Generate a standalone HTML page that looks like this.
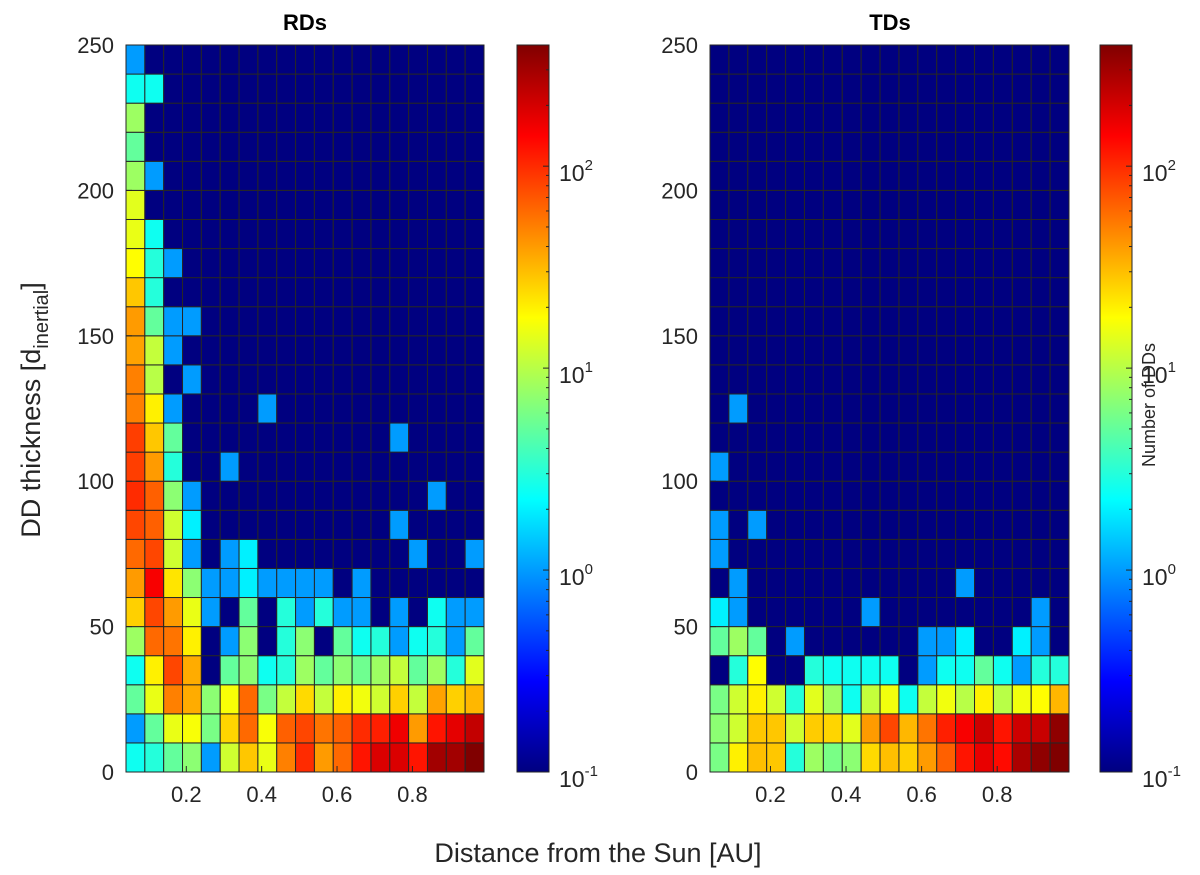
<!DOCTYPE html>
<html><head><meta charset="utf-8"><style>
html,body{margin:0;padding:0;background:#fff;}
svg{display:block;font-family:"Liberation Sans",Arial,sans-serif;}
</style></head><body>
<svg id="fig" width="1200" height="875" viewBox="0 0 1200 875" xmlns="http://www.w3.org/2000/svg">
<defs>
<linearGradient id="jet" x1="0" y1="1" x2="0" y2="0">
<stop offset="0" stop-color="#000080"/><stop offset="0.125" stop-color="#0000ff"/>
<stop offset="0.375" stop-color="#00ffff"/><stop offset="0.625" stop-color="#ffff00"/>
<stop offset="0.875" stop-color="#ff0000"/><stop offset="1" stop-color="#800000"/>
</linearGradient>
</defs>
<g id="rd"></g>
<g id="td"></g>
<text x="305" y="30" font-size="22" font-weight="bold" text-anchor="middle">RDs</text>
<text x="890" y="30" font-size="22" font-weight="bold" text-anchor="middle">TDs</text>
<text transform="translate(40,410) rotate(-90)" font-size="27" text-anchor="middle" fill="#262626">DD thickness [d<tspan font-size="20" dy="8">inertial</tspan><tspan dy="-8">]</tspan></text>
<text x="598" y="862" font-size="27" text-anchor="middle" fill="#262626">Distance from the Sun [AU]</text>
<text transform="translate(1155,405) rotate(-90)" font-size="18" text-anchor="middle" fill="#262626">Number of DDs</text>
</svg>
<script>
const xTicks = [0.2, 0.4, 0.6, 0.8];
const yTicks = [0, 50, 100, 150, 200, 250];
const cbTickExp = [-1, 0, 1, 2];
const xMin = 0.04, binW = 0.05, nCols = 19;
const yBin = 10, nRows = 25;
const logMin = -1, logMax = 2.6;

// rows from bottom (0-10) upward; counts per distance bin
const rdCounts = [
[2.5,3,5,7,1,12,28,15,50,100,40,60,120,190,190,120,300,300,500],
[1,5,15,17,6,25,60,17,65,80,55,65,100,110,160,40,120,175,230],
[5,15,50,35,7,17,60,6,11,24,11,20,16,12,26,11,38,26,32],
[2.5,20,80,35,0,5,7,2.5,3,8,5,7,5.5,8,11,5,8,3,14],
[8,60,55,20,0,1,7,0,3,7,0,5,2.5,3,1,2.5,3,1,5],
[26,80,40,15,1,0,5,0,3,1,3,1,1,0,1,0,2.5,1,1],
[40,150,22,7,1,1,2,1,1,1,1,0,1,0,0,0,0,0,0],
[60,80,12,1,0,1,2,0,0,0,0,0,0,0,0,1,0,0,1],
[80,65,12,2,0,0,0,0,0,0,0,0,0,0,1,0,0,0,0],
[100,65,7,1,0,0,0,0,0,0,0,0,0,0,0,0,1,0,0],
[85,40,3,0,0,1,0,0,0,0,0,0,0,0,0,0,0,0,0],
[85,28,5,0,0,0,0,0,0,0,0,0,0,0,1,0,0,0,0],
[50,20,1,0,0,0,0,1,0,0,0,0,0,0,0,0,0,0,0],
[50,10,0,1,0,0,0,0,0,0,0,0,0,0,0,0,0,0,0],
[38,11,1,0,0,0,0,0,0,0,0,0,0,0,0,0,0,0,0],
[40,5,1,1,0,0,0,0,0,0,0,0,0,0,0,0,0,0,0],
[28,3,0,0,0,0,0,0,0,0,0,0,0,0,0,0,0,0,0],
[18,3,1,0,0,0,0,0,0,0,0,0,0,0,0,0,0,0,0],
[15,2.5,0,0,0,0,0,0,0,0,0,0,0,0,0,0,0,0,0],
[14,0,0,0,0,0,0,0,0,0,0,0,0,0,0,0,0,0,0],
[8,1,0,0,0,0,0,0,0,0,0,0,0,0,0,0,0,0,0],
[5,0,0,0,0,0,0,0,0,0,0,0,0,0,0,0,0,0,0],
[8,0,0,0,0,0,0,0,0,0,0,0,0,0,0,0,0,0,0],
[2.5,2.5,0,0,0,0,0,0,0,0,0,0,0,0,0,0,0,0,0],
[1,0,0,0,0,0,0,0,0,0,0,0,0,0,0,0,0,0,0]
];
const tdCounts = [
[6,20,30,28,3,8,6,7,24,30,26,40,65,120,170,130,280,350,500],
[7,12,28,28,12,27,25,14,40,80,32,55,110,150,210,120,210,220,350],
[6,12,20,12,3,14,8,2.5,11,16,2.5,11,16,10,20,10,16,18,32],
[0,3,18,0,0,3,2.5,2.5,2.5,2.5,0,1,2.5,2.5,5,2.5,1,3,3],
[5,8,5,0,1,0,0,0,0,0,0,1,1,2,0,0,2,1,0],
[2,1,0,0,0,0,0,0,1,0,0,0,0,0,0,0,0,1,0],
[0,1,0,0,0,0,0,0,0,0,0,0,0,1,0,0,0,0,0],
[1,0,0,0,0,0,0,0,0,0,0,0,0,0,0,0,0,0,0],
[1,0,1,0,0,0,0,0,0,0,0,0,0,0,0,0,0,0,0],
[0,0,0,0,0,0,0,0,0,0,0,0,0,0,0,0,0,0,0],
[1,0,0,0,0,0,0,0,0,0,0,0,0,0,0,0,0,0,0],
[0,0,0,0,0,0,0,0,0,0,0,0,0,0,0,0,0,0,0],
[0,1,0,0,0,0,0,0,0,0,0,0,0,0,0,0,0,0,0],
[0,0,0,0,0,0,0,0,0,0,0,0,0,0,0,0,0,0,0],
[0,0,0,0,0,0,0,0,0,0,0,0,0,0,0,0,0,0,0],
[0,0,0,0,0,0,0,0,0,0,0,0,0,0,0,0,0,0,0],
[0,0,0,0,0,0,0,0,0,0,0,0,0,0,0,0,0,0,0],
[0,0,0,0,0,0,0,0,0,0,0,0,0,0,0,0,0,0,0],
[0,0,0,0,0,0,0,0,0,0,0,0,0,0,0,0,0,0,0],
[0,0,0,0,0,0,0,0,0,0,0,0,0,0,0,0,0,0,0],
[0,0,0,0,0,0,0,0,0,0,0,0,0,0,0,0,0,0,0],
[0,0,0,0,0,0,0,0,0,0,0,0,0,0,0,0,0,0,0],
[0,0,0,0,0,0,0,0,0,0,0,0,0,0,0,0,0,0,0],
[0,0,0,0,0,0,0,0,0,0,0,0,0,0,0,0,0,0,0],
[0,0,0,0,0,0,0,0,0,0,0,0,0,0,0,0,0,0,0]
];

const NS = "http://www.w3.org/2000/svg";
function mk(tag, attrs, parent) {
  const e = document.createElementNS(NS, tag);
  for (const k in attrs) e.setAttribute(k, attrs[k]);
  parent.appendChild(e);
  return e;
}
function clamp(v){return Math.max(0,Math.min(1,v));}
function jet(p){
  const r=clamp(Math.min(4*p-1.5,-4*p+4.5)), g=clamp(Math.min(4*p-0.5,-4*p+3.5)), b=clamp(Math.min(4*p+0.5,-4*p+2.5));
  return "rgb("+Math.round(r*255)+","+Math.round(g*255)+","+Math.round(b*255)+")";
}
function colorOf(c){
  if (c <= 0) return jet(0);
  return jet(clamp((Math.log10(c)-logMin)/(logMax-logMin)));
}
const PT = 45, PB = 772;
function yScale(v){ return PB - v/(nRows*yBin)*(PB-PT); }

function panel(g, counts, L, R, cbL, cbR, tag) {
  const xScale = v => L + (v - xMin)/(nCols*binW)*(R-L);
  for (let r = 0; r < nRows; r++) {
    for (let c = 0; c < nCols; c++) {
      const x0 = xScale(xMin + c*binW), x1 = xScale(xMin + (c+1)*binW);
      const y1 = yScale(r*yBin), y0 = yScale((r+1)*yBin);
      const rc = mk("rect", {x:x0, y:y0, width:x1-x0, height:y1-y0, fill:colorOf(counts[r][c]), stroke:"#262626", "stroke-width":1}, g);
      
      
    }
  }
  const box = mk("rect", {x:L, y:PT, width:R-L, height:PB-PT, fill:"none", stroke:"#262626", "stroke-width":1}, g);
  
  
  yTicks.forEach(t => {
    const y = yScale(t);
    mk("line", {x1:L, x2:L+6, y1:y, y2:y, stroke:"#262626"}, g);
    const tx = mk("text", {x:L-12, y:y+8, "font-size":22, "text-anchor":"end", fill:"#262626"}, g);
    tx.textContent = t;
    
    
  });
  xTicks.forEach(t => {
    const x = xScale(t);
    mk("line", {x1:x, x2:x, y1:PB, y2:PB-6, stroke:"#262626"}, g);
    const tx = mk("text", {x:x, y:PB+30, "font-size":22, "text-anchor":"middle", fill:"#262626"}, g);
    tx.textContent = t;
    
    
  });
  const cb = mk("rect", {x:cbL, y:PT, width:cbR-cbL, height:PB-PT, fill:"url(#jet)", stroke:"#262626", "stroke-width":1}, g);
  
  
  const cbY = l => PB - (l - logMin)/(logMax-logMin)*(PB-PT);
  for (let e = logMin; e < logMax; e++) {
    for (let m = 2; m <= 9; m++) {
      const l = e + Math.log10(m);
      if (l > logMax) break;
      const y = cbY(l);
      mk("line", {x1:cbR-3, x2:cbR, y1:y, y2:y, stroke:"#262626"}, g);
    }
  }
  cbTickExp.forEach(e => {
    const y = cbY(e);
    mk("line", {x1:cbR-6, x2:cbR, y1:y, y2:y, stroke:"#262626"}, g);
    const tx = mk("text", {x:cbR+10, y:y+15, "font-size":23, fill:"#262626"}, g);
    
    
    tx.appendChild(document.createTextNode("10"));
    const sup = mk("tspan", {"font-size":15, dy:-11}, tx);
    sup.textContent = e;
  });
}
panel(document.getElementById("rd"), rdCounts, 126, 484, 517, 549, "rd");
panel(document.getElementById("td"), tdCounts, 710, 1069, 1100, 1132, "td");
</script>
</body></html>
